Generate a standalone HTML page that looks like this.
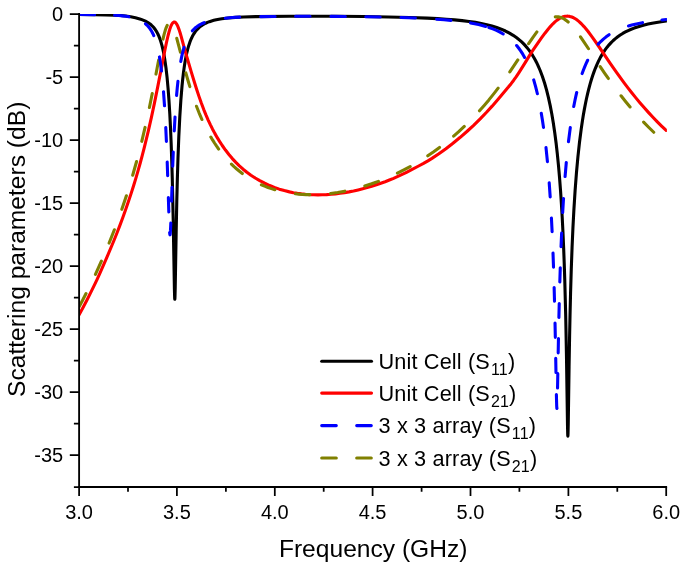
<!DOCTYPE html>
<html lang="en"><head><meta charset="utf-8"><title>Scattering parameters</title>
<style>html,body{margin:0;padding:0;background:#fff}body{width:685px;height:568px;overflow:hidden}svg{display:block;will-change:transform}text{font-family:"Liberation Sans",sans-serif;fill:#000}</style></head><body>
<svg width="685" height="568" viewBox="0 0 685 568">
<rect width="685" height="568" fill="#fff"/>
<clipPath id="c"><rect x="79.1" y="14.1" width="587.8" height="486.5"/></clipPath>
<g clip-path="url(#c)" fill="none" stroke-linejoin="round">
<path d="M79.10 14.55 L94.27 14.71 L105.81 14.91 L114.13 15.17 L120.39 15.51 L125.77 16.01 L130.67 16.73 L135.46 17.72 L139.77 18.91 L141.82 19.61 L143.68 20.34 L145.44 21.15 L147.11 22.04 L148.67 23.01 L150.04 24.00 L151.31 25.06 L152.59 26.28 L153.76 27.58 L154.84 28.95 L155.91 30.52 L156.89 32.15 L157.87 34.02 L158.75 35.94 L159.63 38.12 L160.41 40.32 L161.20 42.80 L161.98 45.62 L162.76 48.83 L163.45 52.01 L164.13 55.60 L164.82 59.66 L165.99 67.95 L167.07 77.42 L168.05 88.05 L168.93 99.76 L169.81 114.13 L170.49 127.70 L171.15 143.20 L171.73 159.88 L172.27 178.08 L173.20 219.11 L174.39 288.56 L174.61 296.57 L174.70 298.52 L174.80 299.15 L174.90 298.47 L175.00 296.37 L175.22 287.48 L176.18 231.40 L176.78 201.45 L177.35 178.86 L177.97 158.53 L178.81 136.66 L179.79 116.93 L180.86 100.14 L182.04 85.97 L182.72 79.19 L183.41 73.28 L184.19 67.42 L184.97 62.35 L185.85 57.44 L186.73 53.21 L187.71 49.19 L188.79 45.42 L189.96 41.95 L191.14 39.02 L192.41 36.35 L193.88 33.76 L195.35 31.61 L197.01 29.58 L198.77 27.81 L200.73 26.18 L202.20 25.16 L203.86 24.15 L205.62 23.24 L207.48 22.41 L209.44 21.67 L211.59 20.97 L213.84 20.35 L216.29 19.77 L218.93 19.25 L221.86 18.76 L228.22 17.95 L235.46 17.34 L243.49 16.94 L255.62 16.67 L289.38 16.26 L311.79 16.19 L336.64 16.28 L363.55 16.54 L388.21 16.95 L409.34 17.48 L427.25 18.14 L437.33 18.64 L446.33 19.21 L454.55 19.86 L462.08 20.60 L469.03 21.44 L475.39 22.39 L481.26 23.46 L486.74 24.66 L491.93 26.02 L496.72 27.52 L501.22 29.19 L505.43 31.02 L509.44 33.07 L513.16 35.30 L516.69 37.74 L519.91 40.34 L521.68 41.92 L523.44 43.64 L525.10 45.40 L526.67 47.18 L528.23 49.11 L529.70 51.06 L531.17 53.16 L532.63 55.43 L534.00 57.72 L535.28 60.00 L536.55 62.45 L537.82 65.09 L540.17 70.50 L542.42 76.47 L544.57 83.04 L546.53 89.89 L548.39 97.32 L550.15 105.38 L551.81 114.06 L553.28 122.78 L554.75 132.71 L556.12 143.29 L557.29 153.60 L558.47 165.33 L559.54 177.63 L560.52 190.44 L561.40 203.62 L562.19 217.03 L562.97 232.46 L563.65 248.14 L564.23 263.47 L564.76 279.75 L565.70 315.41 L566.48 356.45 L567.50 425.03 L567.69 433.41 L567.77 435.47 L567.86 436.17 L567.95 435.40 L568.04 433.16 L568.24 423.90 L569.07 366.86 L569.59 336.45 L570.05 314.02 L570.55 293.42 L571.26 269.56 L572.07 247.44 L572.95 227.53 L573.93 209.08 L575.10 190.61 L576.47 172.71 L577.94 156.69 L579.50 142.29 L581.27 128.61 L582.24 121.93 L583.22 115.80 L584.30 109.63 L585.38 103.97 L586.45 98.78 L587.63 93.58 L588.80 88.81 L590.07 84.08 L591.34 79.75 L592.62 75.79 L593.99 71.87 L595.36 68.29 L596.82 64.78 L598.39 61.38 L600.05 58.09 L601.72 55.12 L603.48 52.26 L605.24 49.67 L607.10 47.19 L609.06 44.84 L611.11 42.61 L613.26 40.51 L615.42 38.62 L617.76 36.77 L620.21 35.05 L622.75 33.45 L625.40 31.97 L628.23 30.56 L631.17 29.26 L634.20 28.07 L637.43 26.95 L640.76 25.94 L644.28 25.00 L648.10 24.10 L652.11 23.27 L656.51 22.47 L661.21 21.72 L666.20 21.02" stroke="#000" stroke-width="3.1" stroke-linecap="round"/>
<path d="M79.10 314.79 L82.92 307.72 L86.73 300.42 L90.55 292.90 L94.36 285.15 L97.01 279.62 L99.84 273.45 L106.20 258.96 L113.64 241.25 L116.77 233.46 L119.71 225.89 L122.74 217.76 L125.68 209.59 L128.51 201.36 L131.16 193.37 L133.50 185.96 L135.76 178.58 L138.01 170.90 L140.16 163.25 L142.21 155.63 L144.27 147.67 L148.28 131.16 L151.41 117.38 L154.44 103.16 L157.87 86.15 L164.82 50.41 L166.58 41.99 L168.14 35.27 L168.93 32.28 L169.71 29.60 L170.39 27.54 L171.08 25.78 L171.76 24.34 L172.45 23.23 L173.13 22.48 L173.82 22.08 L174.41 22.02 L175.09 22.27 L175.68 22.75 L176.36 23.61 L177.05 24.77 L177.73 26.19 L178.42 27.86 L179.20 30.03 L180.18 33.06 L181.16 36.38 L184.19 47.57 L186.05 54.13 L191.33 72.11 L193.88 80.49 L196.62 89.23 L199.06 96.64 L201.41 103.32 L203.76 109.55 L205.82 114.60 L208.07 119.78 L210.32 124.62 L212.57 129.15 L214.82 133.38 L217.26 137.66 L219.71 141.65 L222.25 145.52 L225.48 150.07 L228.91 154.51 L232.33 158.58 L235.86 162.41 L239.38 165.88 L243.10 169.18 L246.91 172.26 L250.92 175.18 L255.23 177.99 L259.73 180.62 L264.72 183.23 L269.71 185.55 L274.41 187.45 L279.30 189.14 L284.29 190.61 L289.48 191.88 L293.39 192.68 L297.31 193.34 L301.32 193.89 L305.43 194.32 L309.54 194.62 L313.74 194.80 L317.95 194.85 L322.26 194.79 L326.66 194.60 L331.06 194.30 L335.47 193.87 L339.97 193.32 L344.47 192.65 L348.97 191.87 L353.57 190.96 L358.17 189.93 L362.67 188.82 L367.17 187.60 L371.77 186.25 L376.37 184.80 L380.77 183.30 L385.17 181.70 L389.38 180.06 L393.59 178.32 L397.90 176.42 L402.20 174.42 L406.51 172.33 L410.71 170.19 L418.64 166.00 L423.53 163.34 L427.94 160.81 L431.95 158.34 L438.89 153.71 L445.94 148.65 L452.98 143.24 L459.93 137.56 L466.88 131.51 L473.63 125.28 L480.19 118.87 L486.55 112.27 L492.12 106.17 L497.70 99.76 L508.37 87.07 L511.11 83.66 L513.55 80.45 L516.10 76.87 L518.94 72.56 L524.90 63.10 L530.38 54.17 L532.83 50.38 L537.82 43.09 L541.64 37.68 L544.96 33.18 L547.90 29.45 L550.35 26.58 L552.69 24.06 L554.94 21.91 L557.10 20.13 L559.15 18.71 L561.21 17.59 L563.16 16.81 L565.12 16.33 L566.30 16.19 L567.37 16.16 L568.45 16.22 L569.62 16.40 L570.70 16.66 L571.87 17.04 L572.95 17.49 L574.12 18.08 L575.30 18.77 L576.47 19.55 L578.82 21.40 L581.36 23.76 L584.01 26.58 L585.87 28.75 L587.92 31.30 L592.42 37.31 L597.12 44.00 L610.03 63.03 L616.88 72.88 L624.32 83.11 L627.94 87.90 L631.56 92.54 L635.67 97.65 L639.88 102.70 L644.09 107.56 L648.39 112.37 L652.70 117.00 L657.10 121.56 L661.60 126.06 L666.20 130.48" stroke="#ff0000" stroke-width="3.1" stroke-linecap="round"/>
<path d="M79.10 306.76 L82.60 300.16 L86.03 293.52 M95.44 274.27 L101.39 261.22 M109.12 243.05 L114.38 229.75 M121.84 209.33 L126.40 195.75 M132.70 175.29 L136.58 161.53 M141.78 141.35 L145.07 127.45 M149.42 107.53 L152.25 93.55 M156.01 74.07 L158.67 60.03 M162.96 39.08 L164.11 34.37 L165.19 30.57 L166.21 27.60 L167.20 25.37 M176.77 38.32 L180.41 52.18 M185.83 72.87 L187.85 80.01 L189.83 86.64 M196.48 106.23 L199.16 113.05 L201.92 119.49 M210.85 137.02 L212.72 140.17 L214.66 143.25 L216.64 146.22 L218.65 149.09 M231.43 164.10 L234.06 166.61 L236.74 169.01 L239.48 171.30 L242.29 173.49 M261.37 184.74 L264.64 186.15 L267.99 187.45 L271.39 188.64 L274.86 189.73 M295.47 193.83 L298.99 194.17 L302.55 194.43 L306.15 194.59 L309.81 194.67 M330.55 193.45 L337.62 192.45 L344.76 191.16 M364.82 186.04 L371.63 183.81 L378.42 181.35 M397.41 173.17 L403.83 169.95 L410.17 166.54 M427.80 155.77 L433.71 151.71 L439.52 147.47 M453.65 136.11 L459.01 131.37 L464.30 126.45 M479.48 110.80 L484.20 105.44 L488.88 99.89 L493.51 94.13 L498.13 88.14 M509.82 71.90 L517.84 59.98 M528.62 43.63 L533.12 37.06 L536.90 31.88 M555.28 16.89 L556.84 16.78 L558.41 16.87 L559.99 17.19 L561.58 17.71 L563.18 18.46 L564.83 19.44 L566.49 20.63 L568.19 22.06 M580.50 36.84 L584.06 42.03 L588.51 48.74 M600.21 66.61 L604.38 72.80 L608.31 78.49 M621.05 95.78 L625.55 101.46 L630.09 106.95 M643.62 122.06 L648.63 127.22 L653.75 132.27" stroke="#808000" stroke-width="3.1" stroke-linecap="round"/>
<path d="M79.10 14.56 L94.54 14.73 M114.62 15.28 L118.89 15.55 L122.56 15.88 L125.85 16.31 L128.91 16.84 M145.52 23.89 L146.77 25.00 L147.95 26.19 L149.06 27.48 L150.10 28.85 L151.08 30.33 L152.02 31.93 L152.92 33.68 L153.76 35.52 M159.47 56.93 L160.51 63.54 L161.49 71.03 M163.51 91.70 L164.52 105.79 M165.76 127.54 L166.40 141.54 M167.20 161.99 L167.67 175.64 M168.37 197.61 L168.81 211.99 M169.65 232.45 L169.79 233.99 L169.93 234.76 L170.00 234.85 L170.07 234.76 L170.21 234.01 L170.50 230.18 L170.82 222.97 M171.56 201.14 L172.00 187.20 M172.72 166.11 L173.27 152.05 M174.25 130.86 L175.03 116.96 M176.58 95.51 L177.24 88.17 L177.95 81.37 M180.77 61.43 L181.51 57.59 L182.31 53.93 L183.15 50.55 L184.03 47.45 M192.39 30.80 L193.58 29.51 L194.84 28.31 L196.17 27.19 L197.56 26.17 L199.04 25.21 L200.63 24.31 L202.31 23.48 L204.11 22.71 M225.29 18.18 L232.16 17.55 L239.61 17.11 M260.71 16.65 L275.09 16.46 M295.62 16.30 L309.99 16.27 M330.93 16.35 L345.29 16.47 M365.82 16.73 L380.18 17.00 M401.01 17.54 L415.39 18.06 M436.59 19.18 L444.04 19.73 L450.91 20.35 M470.54 22.93 L474.65 23.71 L478.54 24.55 L482.20 25.45 L485.69 26.42 M488.92 27.45 L492.83 28.88 L496.49 30.43 L499.93 32.13 L503.18 33.98 M516.65 45.53 L518.80 48.23 L520.83 51.08 L522.79 54.15 L524.65 57.41 M533.71 79.92 L535.61 86.60 L537.39 93.75 M541.28 113.26 L542.40 120.09 L543.48 127.36 M546.00 147.61 L547.43 161.67 M549.21 182.92 L550.19 196.95 M551.42 217.97 L552.11 231.78 M553.01 253.12 L553.52 267.27 M554.14 287.45 L554.51 301.24 M555.03 322.96 L555.32 337.33 M555.72 358.18 L555.97 372.56 M556.38 394.44 L556.70 406.08 L556.84 408.24 L556.91 408.47 L556.98 408.14 M557.55 388.03 L557.81 373.66 M558.18 352.83 L558.46 338.47 M558.90 317.55 L559.23 303.56 M559.82 282.07 L560.27 267.84 M561.05 246.65 L561.64 233.04 M562.67 212.55 L563.52 198.45 M565.08 176.57 L566.30 162.48 M568.47 141.73 L570.29 127.60 M573.73 106.47 L575.18 99.24 L576.71 92.45 M582.15 73.53 L583.44 69.97 L584.79 66.56 L586.18 63.34 L587.63 60.27 M598.25 44.14 L600.74 41.53 L603.38 39.09 L606.16 36.84 L609.09 34.76 M628.55 26.00 L631.78 25.08 L635.18 24.23 L638.76 23.42 L642.52 22.68 M661.95 19.92 L666.20 19.49" stroke="#0000ff" stroke-width="3.1" stroke-linecap="round"/>
</g>
<g stroke="#000" stroke-width="1.85" fill="none" stroke-linecap="butt">
<path d="M79.1 13.1 V487.9"/>
<path d="M78.2 487.0 H667.1"/>
<path d="M69.8 14.0 H79.1 M73.9 45.5 H79.1 M69.8 77.0 H79.1 M73.9 108.5 H79.1 M69.8 140.0 H79.1 M73.9 171.5 H79.1 M69.8 203.0 H79.1 M73.9 234.5 H79.1 M69.8 266.0 H79.1 M73.9 297.5 H79.1 M69.8 329.0 H79.1 M73.9 360.5 H79.1 M69.8 392.0 H79.1 M73.9 423.5 H79.1 M69.8 455.0 H79.1 M73.9 487.0 H79.1 M79.1 487.0 V495.9 M128.0 487.0 V491.8 M176.9 487.0 V495.9 M225.9 487.0 V491.8 M274.8 487.0 V495.9 M323.7 487.0 V491.8 M372.6 487.0 V495.9 M421.6 487.0 V491.8 M470.5 487.0 V495.9 M519.4 487.0 V491.8 M568.4 487.0 V495.9 M617.3 487.0 V491.8 M666.2 487.0 V495.9" stroke-width="1.75"/>
</g>
<g font-size="20" text-anchor="end">
<text x="63.2" y="20.5">0</text>
<text x="63.2" y="83.5">-5</text>
<text x="63.2" y="146.5">-10</text>
<text x="63.2" y="209.5">-15</text>
<text x="63.2" y="272.5">-20</text>
<text x="63.2" y="335.5">-25</text>
<text x="63.2" y="398.5">-30</text>
<text x="63.2" y="461.5">-35</text>
</g>
<g font-size="20" text-anchor="middle">
<text x="79.1" y="518.7">3.0</text>
<text x="176.9" y="518.7">3.5</text>
<text x="274.8" y="518.7">4.0</text>
<text x="372.6" y="518.7">4.5</text>
<text x="470.5" y="518.7">5.0</text>
<text x="568.4" y="518.7">5.5</text>
<text x="666.2" y="518.7">6.0</text>
</g>
<text x="373.2" y="556.6" font-size="24.6" text-anchor="middle">Frequency (GHz)</text>
<text transform="translate(24.8 249.3) rotate(-90)" font-size="24.6" text-anchor="middle">Scattering parameters (dB)</text>
<path d="M321.7 361.2 H371.5" stroke="#000" stroke-width="3.1" stroke-linecap="round" fill="none"/>
<text x="378.5" y="368.6" font-size="21.7" letter-spacing="0.15">Unit Cell (S<tspan font-size="16" dx="1" dy="6">11</tspan><tspan dy="-6">)</tspan></text>
<path d="M321.7 393.1 H371.5" stroke="#ff0000" stroke-width="3.1" stroke-linecap="round" fill="none"/>
<text x="378.5" y="400.5" font-size="21.7" letter-spacing="0.15">Unit Cell (S<tspan font-size="16" dx="1" dy="6">21</tspan><tspan dy="-6">)</tspan></text>
<path d="M321.7 425.6 H371.5" stroke="#0000ff" stroke-width="3.1" stroke-linecap="round" fill="none" stroke-dasharray="14.6 20.4"/>
<text x="378.5" y="433.0" font-size="21.7" letter-spacing="0.15">3 x 3 array (S<tspan font-size="16" dx="1" dy="6">11</tspan><tspan dy="-6">)</tspan></text>
<path d="M321.7 458.0 H371.5" stroke="#808000" stroke-width="3.1" stroke-linecap="round" fill="none" stroke-dasharray="14.6 20.4"/>
<text x="378.5" y="466.1" font-size="21.7" letter-spacing="0.15">3 x 3 array (S<tspan font-size="16" dx="1" dy="6">21</tspan><tspan dy="-6">)</tspan></text>
</svg></body></html>
